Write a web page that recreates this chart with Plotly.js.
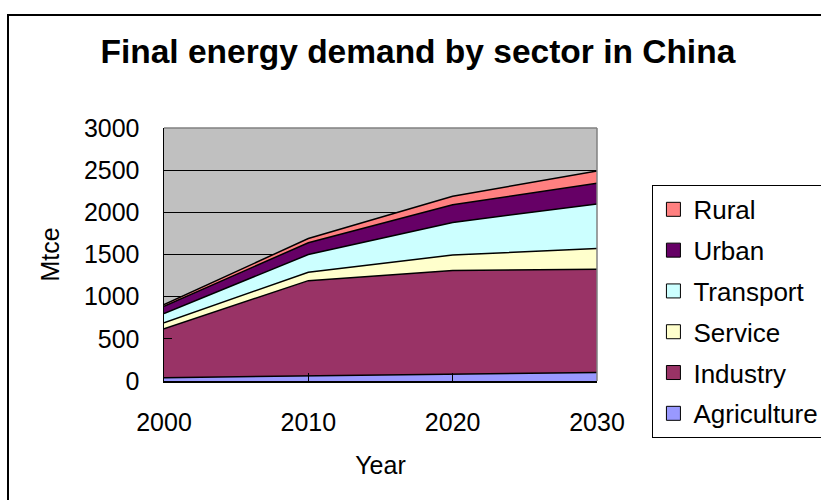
<!DOCTYPE html>
<html>
<head>
<meta charset="utf-8">
<script src="https://cdn.plot.ly/plotly-3.0.1.min.js"></script>
<style>
  html, body { margin: 0; padding: 0; background: #fff; }
  #wrap { position: relative; width: 821px; height: 500px; overflow: hidden; }
  #chart { width: 821px; height: 500px; }
  #frame { position: absolute; left: 7px; top: 14px; width: 830px; height: 500px;
           border: 2px solid #000; pointer-events: none; box-sizing: border-box; }
</style>
</head>
<body>
<div id="wrap">
  <div id="chart"></div>
  <div id="frame"></div>
</div>
<script>
const years = [2000, 2010, 2020, 2030];
const sectors = ["Agriculture", "Industry", "Service", "Transport", "Urban", "Rural"];
const agriculture = [40, 60, 80, 100];
const industry = [580, 1130, 1230, 1225];
const service = [70, 100, 185, 245];
const transport = [110, 210, 385, 530];
const urban = [85, 140, 210, 245];
const rural = [20, 50, 100, 145];
const colors = ["#9999ff", "#993366", "#ffffcc", "#ccffff", "#660066", "#ff8080"];
const yTicks = [0, 500, 1000, 1500, 2000, 2500, 3000];

const series = [agriculture, industry, service, transport, urban, rural];
const FONT = "Liberation Sans, Arial, sans-serif";

const traces = [];
series.forEach((vals, i) => {
  traces.push({
    type: "scatter", mode: "lines", x: years, y: vals, name: sectors[i],
    stackgroup: "one", fillcolor: colors[i],
    line: { color: "#000", width: 1.5 }, showlegend: false, hoverinfo: "x+y+name"
  });
});
// legend entries, top to bottom: Rural ... Agriculture
for (let i = series.length - 1; i >= 0; i--) {
  traces.push({
    type: "scatter", mode: "markers", x: [null], y: [null], name: sectors[i],
    legendgroup: sectors[i],
    marker: { symbol: "square", size: 14, color: colors[i], line: { color: "#000", width: 1 } },
    showlegend: true, hoverinfo: "skip"
  });
}

const layout = {
  width: 821, height: 500,
  margin: { l: 164, r: 223.5, t: 128, b: 119, autoexpand: false },
  paper_bgcolor: "#fff", plot_bgcolor: "#c0c0c0",
  font: { family: FONT, color: "#000" },
  title: {
    text: "<b>Final energy demand by sector in China</b>",
    font: { family: FONT, size: 33.5, color: "#000" },
    x: 0.509, xref: "container", xanchor: "center",
    y: 0.898, yref: "container", yanchor: "middle"
  },
  xaxis: {
    range: [2000, 2030], tickvals: years, ticktext: years.map(String),
    showgrid: false, zeroline: false,
    showline: true, linecolor: "#000", linewidth: 1.5,
    ticks: "inside", ticklen: 8, tickcolor: "#000",
    tickfont: { family: FONT, size: 25 },
    ticklabelstandoff: 18,
    title: { text: "Year", font: { family: FONT, size: 25 }, standoff: 22 }
  },
  yaxis: {
    range: [0, 3000], tickvals: yTicks, ticktext: yTicks.map(String),
    showgrid: true, gridcolor: "#000", gridwidth: 1, zeroline: false,
    showline: true, linecolor: "#000", linewidth: 1.5,
    ticks: "inside", ticklen: 8, tickcolor: "#000",
    tickfont: { family: FONT, size: 25 },
    ticklabelstandoff: 18,
    title: { text: "Mtce", font: { family: FONT, size: 25 }, standoff: 17 }
  },
  shapes: [
    { type: "line", xref: "paper", yref: "paper", x0: 0, x1: 1, y0: 1, y1: 1,
      line: { color: "#808080", width: 1.5 }, layer: "above" },
    { type: "line", xref: "paper", yref: "paper", x0: 1, x1: 1, y0: 0, y1: 1,
      line: { color: "#808080", width: 1.5 }, layer: "above" }
  ],
  legend: {
    x: 1.128, xanchor: "left", y: 0.775, yanchor: "top",
    traceorder: "grouped", tracegroupgap: 4,
    bordercolor: "#000", borderwidth: 1, bgcolor: "#fff",
    font: { family: FONT, size: 26, color: "#000" },
    itemwidth: 30
  },
  hovermode: false
};

Plotly.newPlot("chart", traces, layout, { displayModeBar: false, staticPlot: true });
</script>
</body>
</html>
